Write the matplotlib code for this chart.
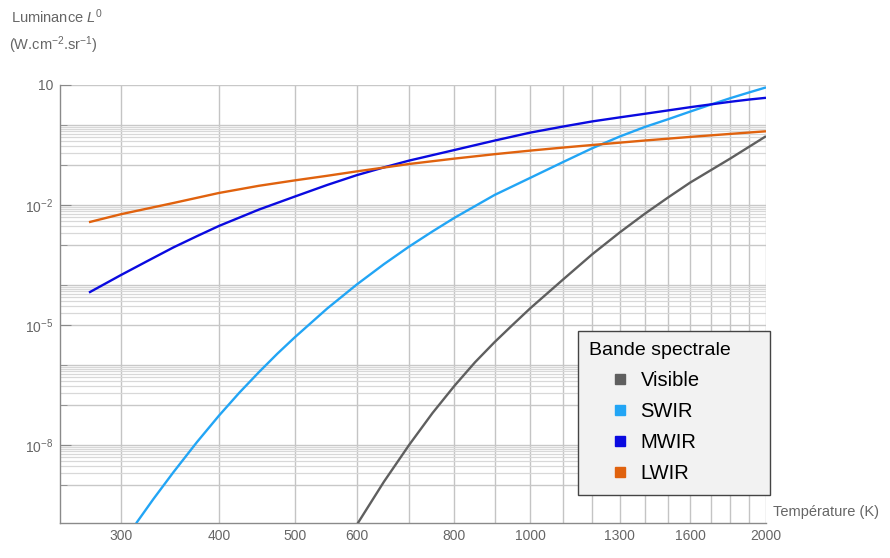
import numpy as np
import matplotlib
matplotlib.use("Agg")
import matplotlib.pyplot as plt
from matplotlib.lines import Line2D
from matplotlib.ticker import NullLocator, FixedLocator, NullFormatter

plt.rcParams['font.family'] = ['Liberation Sans', 'DejaVu Sans']
plt.rcParams['mathtext.fontset'] = 'custom'
plt.rcParams['mathtext.rm'] = 'Liberation Sans'
plt.rcParams['mathtext.it'] = 'Liberation Sans:italic'

# values (T in K, log10 of luminance in W.cm-2.sr-1)
T_vis = [600, 650, 700, 750, 800, 850, 900, 950, 1000, 1100, 1200, 1300, 1400, 1500,
         1600, 1800, 2000]
logL_vis = [-10.0, -8.92, -8.0, -7.2, -6.52, -5.93, -5.43, -4.99, -4.58, -3.87, -3.23,
            -2.69, -2.22, -1.81, -1.44, -0.84, -0.28]

T_swir = [313.6, 330, 350, 375, 400, 425, 450, 475, 500, 550, 600, 650, 700, 750, 800,
          900, 1000, 1100, 1200, 1300, 1400, 1500, 1600, 1700, 1800, 1900, 2000]
logL_swir = [-9.96, -9.35, -8.68, -7.93, -7.27, -6.69, -6.18, -5.72, -5.31, -4.59, -3.99,
             -3.48, -3.04, -2.66, -2.32, -1.75, -1.32, -0.93, -0.58, -0.29, -0.05, 0.145,
             0.335, 0.51, 0.67, 0.81, 0.94]

T_mwir = [273, 300, 325, 350, 375, 400, 450, 500, 550, 600, 650, 700, 800, 900, 1000,
          1100, 1200, 1300, 1400, 1500, 1600, 1700, 1800, 1900, 2000]
logL_mwir = [-4.19, -3.75, -3.39, -3.06, -2.78, -2.525, -2.115, -1.79, -1.5, -1.255,
             -1.06, -0.89, -0.625, -0.39, -0.19, -0.04, 0.09, 0.19, 0.28, 0.365, 0.445,
             0.515, 0.58, 0.635, 0.68]

T_lwir = [273, 300, 350, 400, 450, 500, 550, 600, 700, 800, 900, 1000, 1100, 1200, 1400,
          1600, 1800, 2000]
logL_lwir = [-2.43, -2.23, -1.95, -1.70, -1.52, -1.385, -1.27, -1.16, -0.975, -0.84,
             -0.73, -0.64, -0.565, -0.5, -0.388, -0.298, -0.223, -0.157]

bands = ['Visible', 'SWIR', 'MWIR', 'LWIR']
colors = ['#5f5f5f', '#22a5f5', '#0a0ae0', '#e0620e']

x_ticks = [300, 400, 500, 600, 800, 1000, 1300, 1600, 2000]
x_grid = [300, 400, 500, 600] + list(range(700, 2001, 100))
y_ticks = [10, 1e-2, 1e-5, 1e-8]
y_labels = ['10', '$10^{-2}$', '$10^{-5}$', '$10^{-8}$']
y_decades = [1e-9, 1e-8, 1e-7, 1e-6, 1e-5, 1e-4, 1e-3, 1e-2, 1e-1, 1, 10]
y_dense = [1e-9, 1e-7, 1e-5, 1e-3, 1e-1]  # decades with 2..9 grid lines

fig = plt.figure(figsize=(8.9, 5.58), dpi=100)
ax = fig.add_axes([60/890, 35/558, 706/890, 438/558])
ax.set_xscale('log')
ax.set_yscale('log')

# grid
for t in x_grid:
    ax.axvline(t, color='#c4c4c4', lw=1.0, zorder=0)
for d in y_decades:
    ax.axhline(d, color='#c8c8c8', lw=1.0, zorder=0)
for d in y_dense:
    for k in range(2, 10):
        ax.axhline(d*k, color='#d8d8d8', lw=0.9, zorder=0)

data = [(T_vis, logL_vis), (T_swir, logL_swir), (T_mwir, logL_mwir), (T_lwir, logL_lwir)]
for (T, lg), c in zip(data, colors):
    ax.plot(T, 10**np.array(lg), color=c, lw=1.7, solid_capstyle='butt',
            solid_joinstyle='round', zorder=3)

ax.set_xlim(250.7, 2000)
ax.set_ylim(1.12e-10, 10)

for s in ['top', 'right']:
    ax.spines[s].set_visible(False)
for s in ['left', 'bottom']:
    ax.spines[s].set_color('#8a8a8a')
    ax.spines[s].set_linewidth(1.0)

ax.set_xticks(x_ticks)
ax.set_xticklabels([str(t) for t in x_ticks])
ax.xaxis.set_minor_locator(NullLocator())
ax.set_yticks(y_ticks)
ax.set_yticklabels(y_labels)
ax.yaxis.set_minor_locator(FixedLocator([d for d in y_decades if d not in y_ticks]))
ax.yaxis.set_minor_formatter(NullFormatter())
ax.tick_params(axis='x', which='both', length=0, pad=4, labelsize=10, labelcolor='#666666')
ax.tick_params(axis='y', which='major', direction='in', length=8, color='#8a8a8a',
               pad=5, labelsize=10, labelcolor='#666666')
ax.tick_params(axis='y', which='minor', direction='in', length=5, color='#8a8a8a')

fig.text(773/890, 1 - 512/558, 'Température (K)', ha='left', va='center',
         fontsize=10.5, color='#666666')
fig.text(11/890, 1 - 17/558, 'Luminance $L^0$', ha='left', va='center',
         fontsize=10.5, color='#666666')
fig.text(9/890, 1 - 45/558, '(W.cm$^{-2}$.sr$^{-1}$)', ha='left', va='center',
         fontsize=10.5, color='#666666')

handles = [Line2D([], [], ls='none', marker='s', ms=6.5, color=c) for c in colors]
leg = ax.legend(handles, bands, title='Bande spectrale', loc='upper left',
                bbox_to_anchor=(0.7337, 0.0662, 0.272, 0.372), mode='expand',
                fontsize=14.5, title_fontsize=14,
                frameon=True, fancybox=False, edgecolor='#444444', facecolor='#f2f2f2',
                framealpha=1, handlelength=3.1, handletextpad=-0.55, labelspacing=0.6,
                borderpad=0.55, borderaxespad=0, alignment='left')
leg.get_frame().set_linewidth(1.0)

fig.savefig('out.png', dpi=100)
